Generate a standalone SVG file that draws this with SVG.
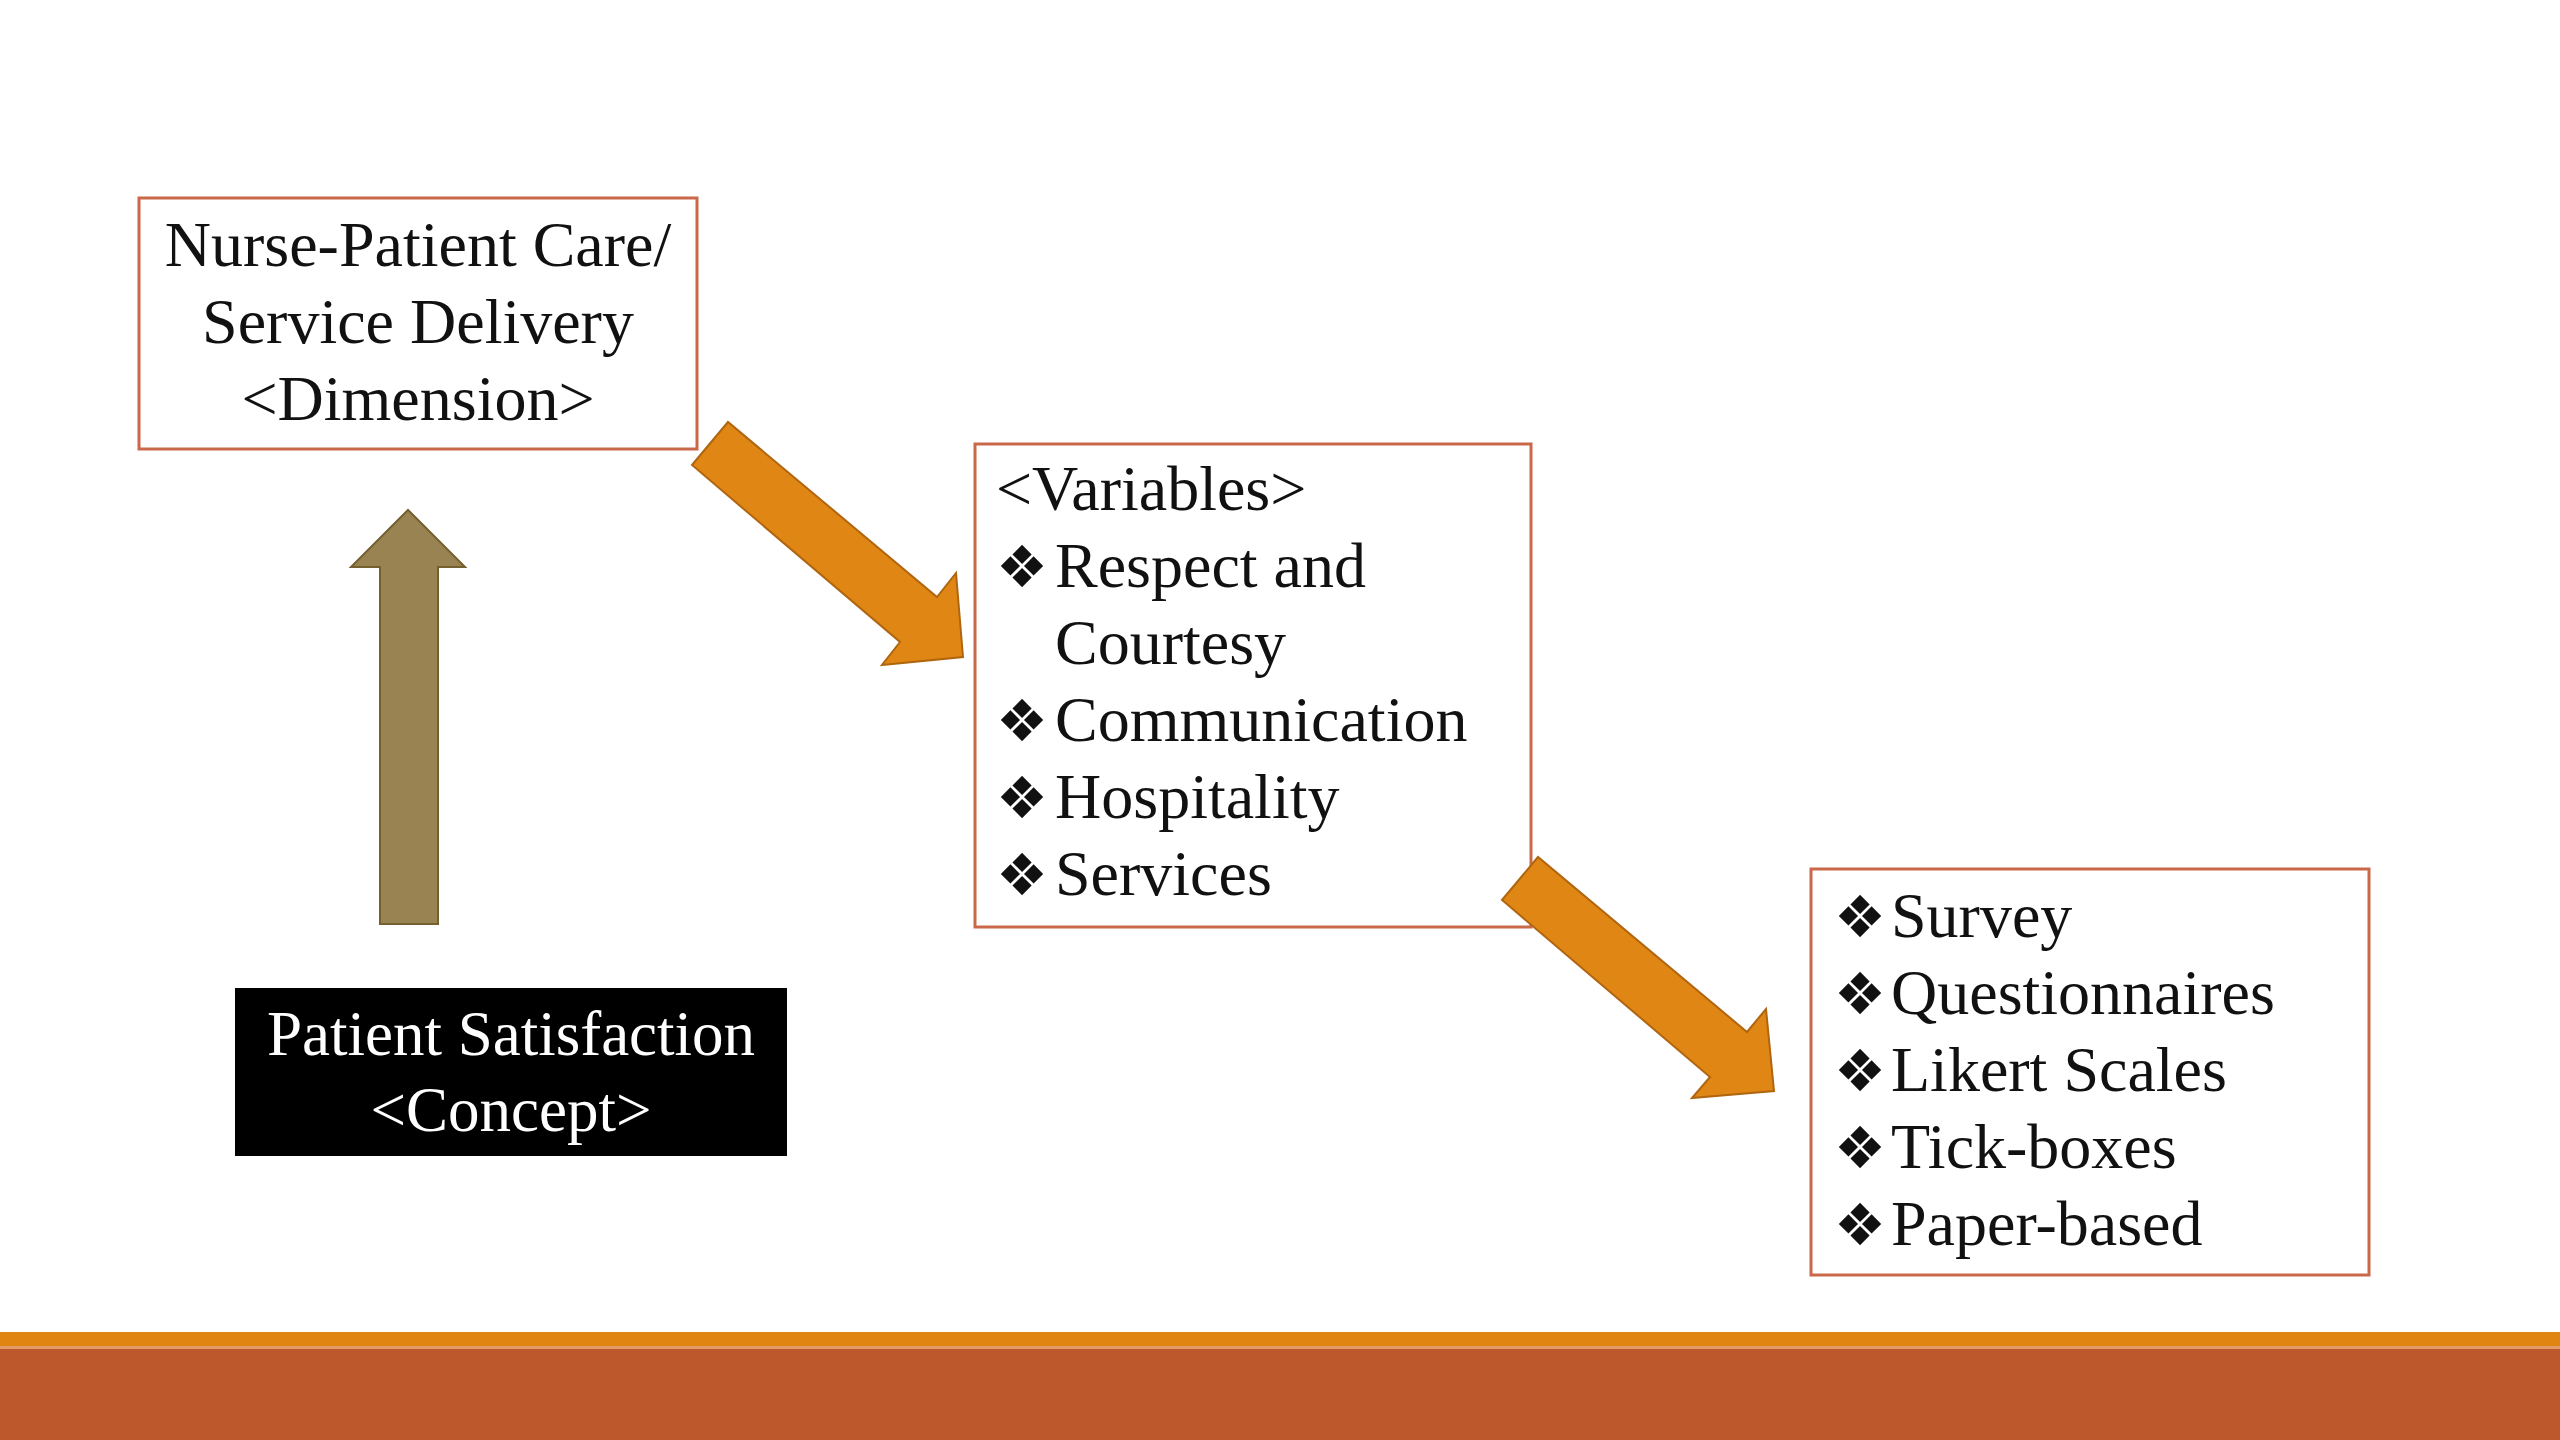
<svg xmlns="http://www.w3.org/2000/svg" width="2560" height="1440" viewBox="0 0 2560 1440">
<style>
.box{fill:#fff;stroke:#C9694A;stroke-width:3}
.t{font-family:"Liberation Serif","Times New Roman",serif;font-size:64px;fill:#111}
.w{font-family:"Liberation Serif","Times New Roman",serif;font-size:63px;fill:#fff}
.b{font-family:"DejaVu Sans",sans-serif;font-size:58px;fill:#111}
.oa{fill:#E08614;stroke:#B0650F;stroke-width:2;stroke-linejoin:miter}
.ba{fill:#9A8352;stroke:#75602F;stroke-width:2}
</style>
<rect x="0" y="0" width="2560" height="1440" fill="#fff"/>
<g id="footer">
<rect x="0" y="1332" width="2560" height="14" fill="#E08412"/>
<rect x="0" y="1346" width="2560" height="3" fill="#E39A66"/>
<rect x="0" y="1349" width="2560" height="91" fill="#BC582C"/>
</g>
<g id="node-dimension">
<rect class="box" x="139" y="198" width="558" height="251"/>
<text class="t" x="418" y="266" text-anchor="middle">Nurse-Patient Care/</text>
<text class="t" x="418" y="343" text-anchor="middle">Service Delivery</text>
<text class="t" x="418" y="420" text-anchor="middle">&lt;Dimension&gt;</text>
</g>
<g id="node-concept">
<rect x="235" y="988" width="552" height="168" fill="#000"/>
<text class="w" x="511" y="1055" text-anchor="middle">Patient Satisfaction</text>
<text class="w" x="511" y="1131" text-anchor="middle">&lt;Concept&gt;</text>
</g>
<g id="node-variables">
<rect class="box" x="975" y="444" width="556" height="483"/>
<text class="t" x="996" y="510">&lt;Variables&gt;</text>
<text class="b" x="996" y="587">❖</text><text class="t" x="1055" y="587">Respect and</text>
<text class="t" x="1055" y="664">Courtesy</text>
<text class="b" x="996" y="741">❖</text><text class="t" x="1055" y="741">Communication</text>
<text class="b" x="996" y="818">❖</text><text class="t" x="1055" y="818">Hospitality</text>
<text class="b" x="996" y="895">❖</text><text class="t" x="1055" y="895">Services</text>
</g>
<g id="node-methods">
<rect class="box" x="1811" y="869" width="558" height="406"/>
<text class="b" x="1834" y="937">❖</text><text class="t" x="1891" y="937">Survey</text>
<text class="b" x="1834" y="1014">❖</text><text class="t" x="1891" y="1014">Questionnaires</text>
<text class="b" x="1834" y="1091">❖</text><text class="t" x="1891" y="1091">Likert Scales</text>
<text class="b" x="1834" y="1168">❖</text><text class="t" x="1891" y="1168">Tick-boxes</text>
<text class="b" x="1834" y="1245">❖</text><text class="t" x="1891" y="1245">Paper-based</text>
</g>
<g id="connectors">
<polygon class="ba" points="380,924 438,924 438,567 465,567 408,510 351,567 380,567"/>
<polygon class="oa" points="728,422 692,465 900,642 882,665 963,657 956,573 937,597"/>
<polygon class="oa" points="1538,857 1502,900 1710,1077 1692,1098 1774,1091 1766,1009 1747,1032"/>
</g>
</svg>
